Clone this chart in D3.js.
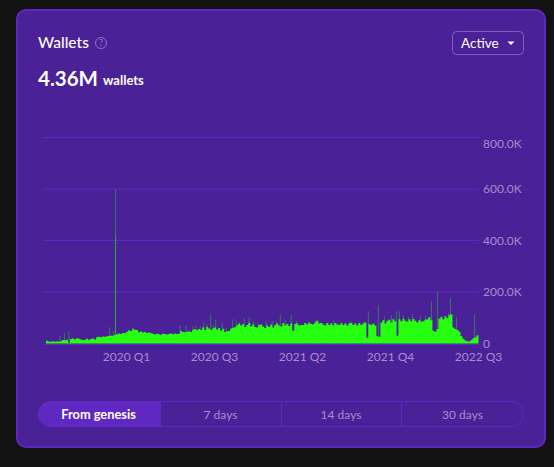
<!DOCTYPE html>
<html><head><meta charset="utf-8">
<script src="https://cdn.jsdelivr.net/npm/d3@7/dist/d3.min.js"></script>
<style>html,body{margin:0;padding:0;background:#121212}svg{display:block}text{font-family:Lato,"Open Sans",sans-serif}</style>
</head><body><svg id="c" width="554" height="467"></svg>
<script>
// Daily active wallets, thousands left to right
const wallets = [
11,8,7,9,7,8,8,9, 14,13,15, 3, 17,19,16,20,18,16, 13,15, 18,15,17,19,16,
24,26,24,27,26,28, 29,31,30,33, 36,39,37,41,40, 46,51,49, 57,53,52,
44,47,43,45,41,43,40, 38,35,38,36,34,39,37,35,37,39,36,39,37,38,
49,45,44,46,48,45, 53,55,51,56,52, 62,52,64,58,52,59,62,54,60,50,57,
45,48,49, 58,61,63, 71,78,70,76,64,72, 80,66,74,64,62,72,74,66,
60,70,64,74,62,72, 78,70,66,80,70,76,68,78, 50,76,78,70,72,
72,80,74,82,76,74,82,88,78,80, 74,70,80,72,78,70,80,74,72,80,
72,78,70,78,80,72,78,70,80,72,78,82, 22,76, 72,78,70, 28,26,
82,90,78,88,92,82,94,86, 30, 94,86,96,88,84,94,86,96,88, 82,90,84,86,92,
94,102,90, 50,46,56, 96,104,94,106,98, 110,114, 62,56,52,46,
28,18,12,9, 8,14,20,24,32,25
];
// Single-day spikes: position along the series, thousands
const spikePos = [7,9.25,11.5,31.75,33.75,34.75,34.75,67,70,73.5,75,77,78.75,80.5,82.25,83.5,84.75,88,90,95,93.25,96.5,99,101.5,103.5,106,110,113,115,117,119.5,122.5,125,134.5,143.5,152,159,161,166,169,172.5,175,176.5,178.5,181,183,187,189.5,192.5,195.5,201,202,205,214];
const spikeVal = [30,40,46,63,49,600,420,72,72,68,70,68,81,75,111,72,92,81,62,90,94,81,98,102,85,80,85,88,85,111,90,111,88,90,88,85,85,125,149,105,110,125,125,110,105,115,105,108,165,200,118,178,100,115];
const yTicks = [0,200,400,600,800];
const tickLabels = ["0","200.0K","400.0K","600.0K","800.0K"];
const quarters = ["2020 Q1","2020 Q3","2021 Q2","2021 Q4","2022 Q3"];
const tabs = ["From genesis","7 days","14 days","30 days"];

const svg = d3.select("#c");
const CARD="#4a2196", EDGE="#5d28c2", GREEN="#26ff10", MUTED="#a78ccf";

svg.append("rect").attr("x",17).attr("y",10).attr("width",528).attr("height",437).attr("rx",9)
  .attr("fill",CARD).attr("stroke",EDGE).attr("stroke-width",2);

// Header
svg.append("text").attr("x",38).attr("y",48).attr("fill","#fff").attr("font-size",15.5).attr("font-weight",500).text("Wallets");
svg.append("circle").attr("cx",101).attr("cy",43).attr("r",5.5).attr("fill","none").attr("stroke","#8f73c2").attr("stroke-width",1);
svg.append("text").attr("x",101).attr("y",46.2).attr("text-anchor","middle").attr("fill","#8f73c2").attr("font-size",9).text("?");
svg.append("text").attr("x",38).attr("y",85.5).attr("fill","#fff").attr("font-size",20.5).attr("font-weight",700).text("4.36M");
svg.append("text").attr("x",103).attr("y",85).attr("fill","#fff").attr("font-size",13).attr("font-weight",700).text("wallets");

// Dropdown
svg.append("rect").attr("x",452.5).attr("y",31.5).attr("width",71).attr("height",23).attr("rx",4)
  .attr("fill","none").attr("stroke","#7f5fbc").attr("stroke-width",1);
svg.append("text").attr("x",461).attr("y",47.5).attr("fill","#fff").attr("font-size",13.5).text("Active");
svg.append("path").attr("d","M507.5 41.5h7l-3.5 3.5z").attr("fill","#fff");

// Scales
const x = d3.scaleLinear().domain([0,wallets.length-1]).range([46,478.5]);
const y = d3.scaleLinear().domain([0,800]).range([343.5,137.5]);
const xq = d3.scalePoint().domain(quarters).range([126,478]);

// Grid
svg.append("g").selectAll("line").data(yTicks.slice(1)).join("line")
  .attr("x1",43).attr("x2",479).attr("y1",d=>y(d)).attr("y2",d=>y(d))
  .attr("stroke",EDGE).attr("stroke-width",1);
svg.append("line").attr("x1",43).attr("x2",479).attr("y1",344.5).attr("y2",344.5).attr("stroke",EDGE).attr("stroke-width",1);

// Series
svg.append("g").selectAll("line").data(spikePos).join("line")
  .attr("x1",d=>x(d)).attr("x2",d=>x(d)).attr("y1",y(0))
  .attr("y2",(d,i)=>y(spikeVal[i]))
  .attr("stroke",GREEN).attr("stroke-width",1).attr("stroke-opacity",.38);
svg.append("path").datum(wallets)
  .attr("d",d3.area().x((d,i)=>x(i)).y0(y(0)).y1(d=>y(d)).curve(d3.curveStepAfter))
  .attr("fill",GREEN);

// Axes
const axisR = svg.append("g").attr("transform","translate(483,0)")
  .call(d3.axisRight(y).tickValues(yTicks).tickSize(0).tickPadding(0).tickFormat((d,i)=>tickLabels[i]));
axisR.select(".domain").remove();
axisR.selectAll("text").attr("fill",MUTED).attr("font-size",12).style("font-family","Lato")
  .attr("dy",(d)=>d===800?"0.85em":"0.32em");
const axisB = svg.append("g").attr("transform","translate(0,352)")
  .call(d3.axisBottom(xq).tickSize(0).tickPadding(0));
axisB.select(".domain").remove();
axisB.selectAll("text").attr("fill",MUTED).attr("font-size",12).style("font-family","Lato");

// Range tabs
const tabEdges = [38,160,281,401,524];
svg.append("rect").attr("x",38.5).attr("y",401.5).attr("width",485).attr("height",25).attr("rx",12.5)
  .attr("fill","none").attr("stroke",EDGE);
svg.append("path").attr("d","M160 401H51a13 13 0 0 0 0 26H160z").attr("fill","#5f28c2");
svg.append("g").selectAll("line").data(tabEdges.slice(1,4)).join("line")
  .attr("x1",d=>d+.5).attr("x2",d=>d+.5).attr("y1",401).attr("y2",427).attr("stroke",EDGE);
svg.append("g").selectAll("text").data(tabs).join("text")
  .attr("x",(d,i)=>(tabEdges[i]+tabEdges[i+1])/2+(i==0?-.5:0)).attr("y",418.5).attr("text-anchor","middle")
  .attr("font-weight",(d,i)=>i==0?700:400)
  .attr("fill",(d,i)=>i==0?"#fff":MUTED).attr("font-size",(d,i)=>i==0?12.8:12).text(d=>d);
</script></body></html>
